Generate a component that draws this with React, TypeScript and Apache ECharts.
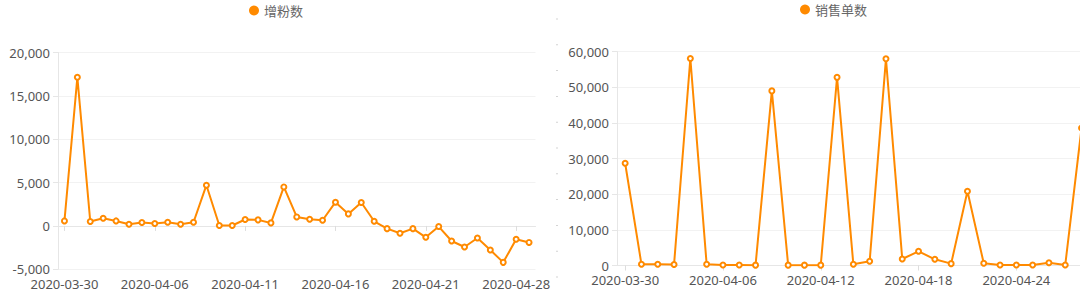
import React, { useEffect, useRef } from "react";
import * as echarts from "echarts";

// ---- data ----
const fansSeriesName = "增粉数";
const fansDates = [
  "2020-03-30", "2020-03-31", "2020-04-01", "2020-04-02", "2020-04-03", "2020-04-04", "2020-04-05",
  "2020-04-06", "2020-04-07", "2020-04-07", "2020-04-08", "2020-04-09", "2020-04-09", "2020-04-10",
  "2020-04-11", "2020-04-12", "2020-04-12", "2020-04-13", "2020-04-14", "2020-04-14", "2020-04-15",
  "2020-04-16", "2020-04-17", "2020-04-17", "2020-04-18", "2020-04-19", "2020-04-19", "2020-04-20",
  "2020-04-21", "2020-04-22", "2020-04-23", "2020-04-24", "2020-04-25", "2020-04-26", "2020-04-27",
  "2020-04-28", "2020-04-29",
];
const fansValues = [
  580, 17140, 510, 890, 580, 200, 390, 280, 430, 200, 430, 4700, 50, 50, 740, 700, 350, 4500,
  1040, 770, 660, 2740, 1390, 2700, 540, -310, -850, -310, -1310, -70, -1740, -2430, -1390,
  -2780, -4200, -1540, -1900,
];
const fansYMin = -5000;
const fansYMax = 20000;
const fansYInterval = 5000;
const fansLabelInterval = 6;

const salesSeriesName = "销售单数";
const salesDates = [
  "2020-03-30", "2020-03-31", "2020-04-01", "2020-04-02", "2020-04-03", "2020-04-05",
  "2020-04-06", "2020-04-07", "2020-04-08", "2020-04-09", "2020-04-10", "2020-04-11",
  "2020-04-12", "2020-04-13", "2020-04-14", "2020-04-15", "2020-04-16", "2020-04-17",
  "2020-04-18", "2020-04-19", "2020-04-20", "2020-04-21", "2020-04-22", "2020-04-23",
  "2020-04-24", "2020-04-25", "2020-04-26", "2020-04-27", "2020-04-28",
];
const salesValues = [
  28700, 340, 370, 300, 58100, 340, 150, 150, 100, 49000, 100, 100, 100, 52800, 340, 1180,
  58000, 1830, 3980, 1740, 520, 20840, 610, 150, 150, 150, 790, 150, 38600,
];
const salesYMin = 0;
const salesYMax = 60000;
const salesYInterval = 10000;
const salesLabelInterval = 5;

// ---- styles ----
const ORANGE = "#ff8a00";
const FONT = "'Noto Sans', 'Noto Sans CJK SC', sans-serif";
const LABEL_COLOR = "#555";
const AXIS_COLOR = "#e6e6e6";
const SPLIT_COLOR = "#f2f2f2";

const fmt = (v: number) => v.toLocaleString("en-US");

export default function App() {
  const ref = useRef<HTMLDivElement>(null);

  useEffect(() => {
    if (!ref.current) return;
    const chart = echarts.init(ref.current, undefined, { renderer: "svg" });

    const yAxisCommon = {
      type: "value" as const,
      axisLine: { show: true, lineStyle: { color: AXIS_COLOR } },
      axisTick: { show: true, length: 5, lineStyle: { color: AXIS_COLOR } },
      axisLabel: { color: LABEL_COLOR, fontSize: 13, fontFamily: FONT, margin: 8, formatter: fmt },
      splitLine: { show: true, lineStyle: { color: SPLIT_COLOR } },
    };

    const seriesCommon = {
      type: "line" as const,
      symbol: "emptyCircle",
      symbolSize: 5,
      showSymbol: true,
      lineStyle: { color: ORANGE, width: 2 },
      itemStyle: { color: ORANGE, borderWidth: 1.5 },
    };

    chart.setOption({
      animation: false,
      textStyle: { fontFamily: FONT },
      legend: [
        {
          data: [{ name: fansSeriesName, icon: "circle" }],
          left: 249,
          top: 4,
          padding: 0,
          itemWidth: 10,
          itemHeight: 10,
          textStyle: { color: "#666", fontSize: 13, fontFamily: FONT },
        },
        {
          data: [{ name: salesSeriesName, icon: "circle" }],
          left: 800,
          top: 3,
          padding: 0,
          itemWidth: 10,
          itemHeight: 10,
          textStyle: { color: "#666", fontSize: 13, fontFamily: FONT },
        },
      ],
      grid: [
        { left: 58, top: 52.5, width: 477.5, height: 216.8, containLabel: false },
        { left: 617, top: 51.7, width: 472.7, height: 213.8, containLabel: false },
      ],
      xAxis: [
        {
          type: "category",
          gridIndex: 0,
          data: fansDates,
          position: "bottom",
          boundaryGap: true,
          axisLine: { show: false, onZero: false },
          axisTick: { show: false },
          axisLabel: { interval: fansLabelInterval, color: LABEL_COLOR, fontSize: 13, fontFamily: FONT, margin: 8 },
          splitLine: { show: false },
        },
        {
          type: "category",
          gridIndex: 0,
          data: fansDates,
          position: "bottom",
          boundaryGap: true,
          axisLine: { show: true, onZero: true, lineStyle: { color: AXIS_COLOR } },
          axisTick: { show: true, alignWithLabel: true, interval: fansLabelInterval, length: 5, lineStyle: { color: "#ddd" } },
          axisLabel: { show: false, interval: fansLabelInterval },
          splitLine: { show: false },
        },
        {
          type: "category",
          gridIndex: 1,
          data: salesDates,
          position: "bottom",
          boundaryGap: true,
          axisLine: { show: true, lineStyle: { color: AXIS_COLOR } },
          axisTick: { show: true, alignWithLabel: true, interval: salesLabelInterval, length: 5, lineStyle: { color: "#ddd" } },
          axisLabel: { interval: salesLabelInterval, color: LABEL_COLOR, fontSize: 13, fontFamily: FONT, margin: 8 },
          splitLine: { show: false },
        },
      ],
      yAxis: [
        { ...yAxisCommon, gridIndex: 0, min: fansYMin, max: fansYMax, interval: fansYInterval },
        { ...yAxisCommon, gridIndex: 1, min: salesYMin, max: salesYMax, interval: salesYInterval },
      ],
      series: [
        { ...seriesCommon, name: fansSeriesName, xAxisIndex: 0, yAxisIndex: 0, data: fansValues },
        { ...seriesCommon, name: salesSeriesName, xAxisIndex: 2, yAxisIndex: 1, data: salesValues },
      ],
      graphic: [
        {
          type: "line",
          shape: { x1: 557, y1: 18.5, x2: 557, y2: 299 },
          style: { stroke: "#d4d4d4", lineWidth: 2, lineDash: [1, 24.8] },
          silent: true,
        },
      ],
    });

    return () => chart.dispose();
  }, []);

  return (
    <div
      style={{
        position: "fixed",
        left: 0,
        top: 0,
        width: 1080,
        height: 299,
        overflow: "hidden",
        background: "#fff",
      }}
    >
      <div ref={ref} style={{ width: 1100, height: 299 }} />
    </div>
  );
}
